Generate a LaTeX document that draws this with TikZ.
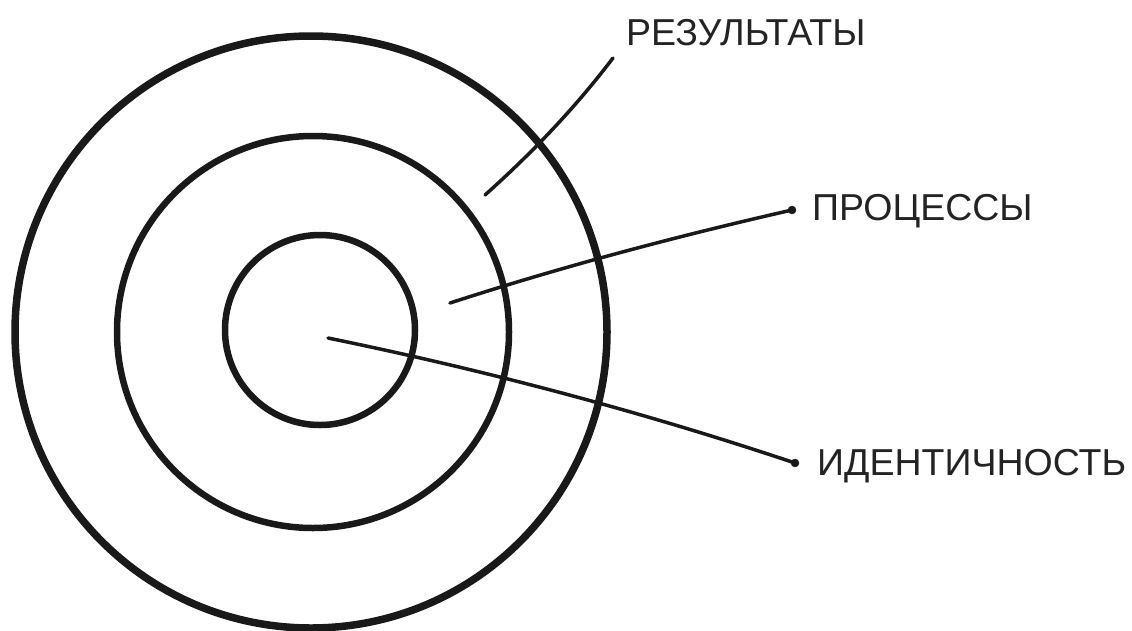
\documentclass[tikz,border=0pt]{standalone}
\usepackage{fontspec}
\setmainfont{Liberation Sans}
\usepackage{tikz}
\definecolor{ink}{RGB}{25, 25, 25}
\definecolor{txt}{RGB}{35, 35, 35}
\newcommand*{\lw}{3.5}

\begin{document}
\begin{tikzpicture}[
   x=1pt, y=-1pt,
   ring/.style={circle, draw=ink, line width=6.5, fill=none, inner sep=0},
   tipdot/.style={circle, draw=ink, fill=ink, inner sep=0, minimum size=8},
   lbl/.style={anchor=base west, inner sep=0, text=txt,
               font=\fontsize{37.5}{42}\selectfont}
  ]

  \useasboundingbox (0, 0) rectangle (1132, 630);

  % rings
  \node (outer) at (311, 332) [ring, line width=7.5, minimum size=592] {};
  \node (middle) at (313, 332) [ring, minimum size=392] {};
  \node (inner) at (320, 330) [ring, minimum size=190] {};

  % pointer start points
  \coordinate (rs) at (485, 195);
  \coordinate (ps) at (450, 303);
  \coordinate (is) at (328, 338);
  \coordinate (re) at (613, 58);

  \node (pdot) at (792, 210) [tipdot] {};
  \node (idot) at (795, 463) [tipdot] {};

  % labels
  \node (res) at (626, 45) [lbl] {РЕЗУЛЬТАТЫ};
  \node (proc) at (812, 220) [lbl] {ПРОЦЕССЫ};
  \node (ident) at (817, 475) [lbl] {ИДЕНТИЧНОСТЬ};

  \draw[ink, line width=\lw, line cap=round]
    (rs) .. controls (532, 153) and (575, 108) .. (re);
  \draw[ink, line width=\lw, line cap=round]
    (ps) .. controls (564, 266) and (678, 236) .. (pdot.center);
  \draw[ink, line width=\lw, line cap=round]
    (is) .. controls (484, 370) and (640, 411) .. (idot.center);

\end{tikzpicture}
\end{document}
